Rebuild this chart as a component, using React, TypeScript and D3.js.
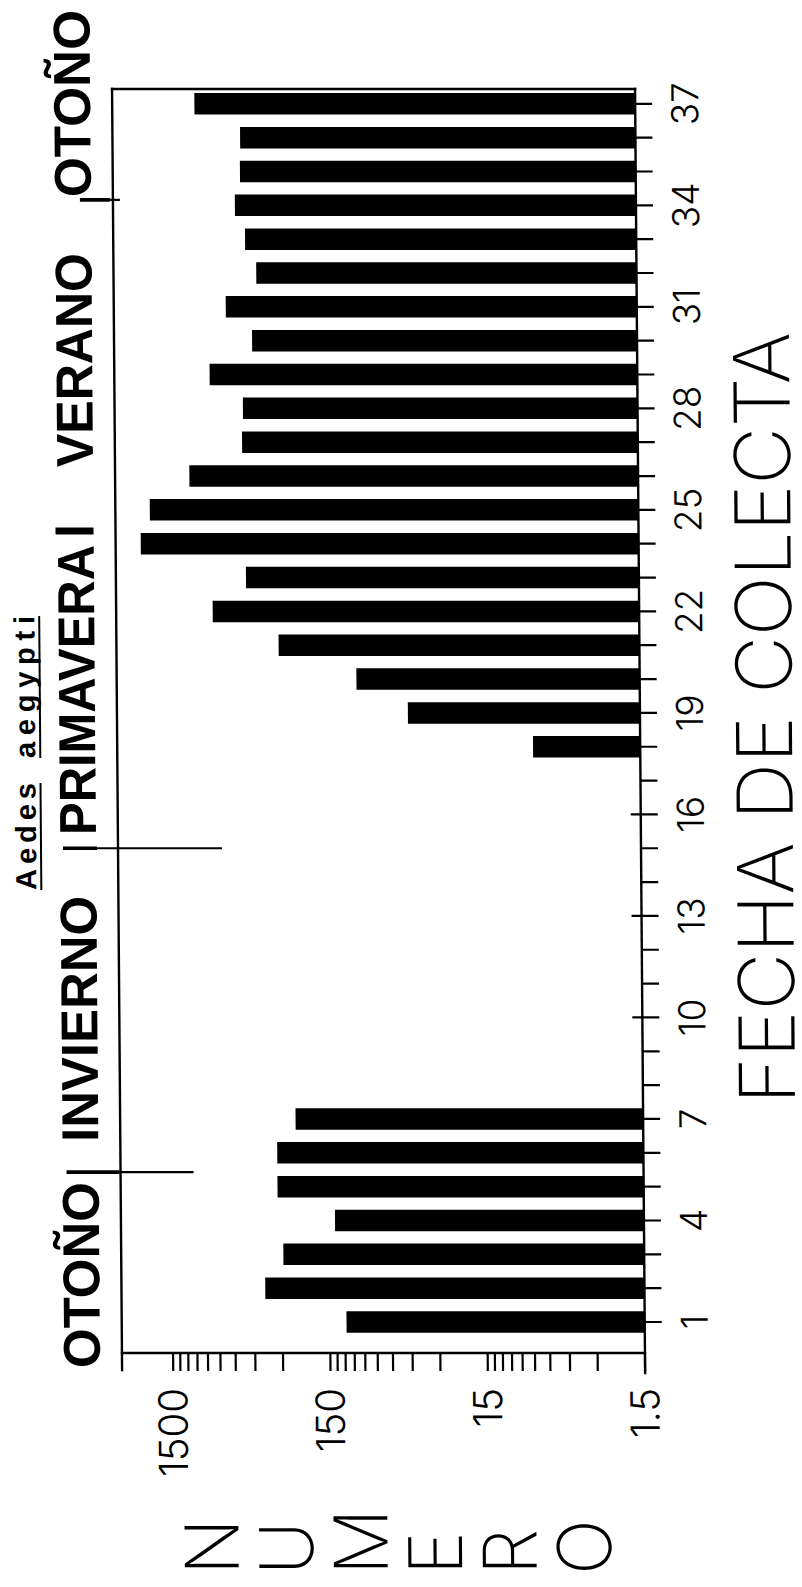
import React from 'react';
import * as d3 from 'd3';

// ---------- data ----------
const dates: number[] = [
  1, 2, 3, 4, 5, 6, 7, 8, 9, 10, 11, 12, 13, 14, 15, 16, 17, 18, 19, 20,
  21, 22, 23, 24, 25, 26, 27, 28, 29, 30, 31, 32, 33, 34, 35, 36, 37,
];
// Aedes aegypti count per collection (null = no bar)
const counts: (number | null)[] = [
  118, 386, 295, 138, 319, 319, 243,
  null, null, null, null, null, null, null, null, null, null,
  7.2, 44.8, 94.8, 295, 771, 472, 2193, 1914, 1068, 492,
  484, 785, 420, 615, 392, 460, 532, 492, 489, 951,
];
const dateTickLabels: number[] = [1, 4, 7, 10, 13, 16, 19, 22, 25, 28, 31, 34, 37];
const valueTickLabels: number[] = [1.5, 15, 150, 1500];
const valueMinorMultipliers: number[] = [1, 2, 3, 4, 5, 6, 7, 8, 9];
const seasonNames: string[] = ['OTOÑO', 'INVIERNO', 'PRIMAVERA', 'VERANO', 'OTOÑO'];
const seasonBoundaries: number[] = [5.43, 15.0, 34.16];
const speciesWords: string[] = ['Aedes', 'aegypti'];
const yAxisTitle = 'NUMERO';
const xAxisTitle = 'FECHA DE COLECTA';

// ---------- layout ----------
const W = 802;
const H = 1587;
const X_BASE = 640; // value 1.5 (bar baseline)
const X_LEFT = 117;
const Y_TOP = 89;
const Y_BOTTOM = 1353;
const DECADE = 157.3;
const SHEAR = 0.00785;
const BAR_H = 21.5;

const seasonLayout = [
  { start: 1368, len: 186 },
  { start: 1142, len: 246 },
  { start: 835, len: 290 },
  { start: 467, len: 214 },
  { start: 197, len: 187 },
];
const dividerLayout = [
  { thick: [63, 116], thin: 190 },
  { thick: [62, 96], thin: 221 },
  { thick: [84, 114], thin: 124 },
];
const speciesLayout = [
  { start: 890, len: 107 },
  { start: 758, len: 142 },
];

const THIN = "Inter, 'Open Sans', 'Liberation Sans', Arial, sans-serif";
const BOLD = "'Liberation Sans', Arial, Helvetica, sans-serif";

export default function App() {
  const xVal = d3
    .scaleLog()
    .domain([1.5, 1500])
    .range([X_BASE, X_BASE - 3 * DECADE]);
  const yDate = d3.scaleLinear().domain([1, 37]).range([1322, 103.8]);

  const minorTicks: number[] = [];
  valueTickLabels.slice(0, 3).forEach((base) => {
    valueMinorMultipliers.forEach((m) => minorTicks.push(base * m));
  });
  minorTicks.push(1500);

  const rot = (x: number, y: number) => `translate(${x},${y}) rotate(-90)`;

  return (
    <svg
      width={W}
      height={H}
      style={{ position: 'absolute', left: 0, top: 0, background: '#fff' }}
    >
      <rect x={0} y={0} width={W} height={H} fill="#fff" />
      <g transform={`matrix(1,0,${SHEAR},1,${-SHEAR * 720},0)`}>
        {/* bars */}
        {dates.map((d, i) => {
          const v = counts[i];
          if (v == null) return null;
          const x = xVal(v);
          return (
            <rect
              key={`bar-${d}`}
              x={x}
              y={yDate(d) - BAR_H / 2}
              width={X_BASE - x}
              height={BAR_H}
              fill="#000"
            />
          );
        })}

        {/* frame */}
        <g stroke="#000" strokeWidth={2.4} fill="none" strokeLinecap="square">
          <line x1={X_LEFT} y1={Y_TOP} x2={X_BASE} y2={Y_TOP} />
          <line x1={X_LEFT} y1={Y_BOTTOM} x2={X_BASE} y2={Y_BOTTOM} />
          <line x1={X_LEFT} y1={Y_TOP} x2={X_LEFT} y2={Y_BOTTOM + 17} />
          <line x1={X_BASE} y1={Y_TOP} x2={X_BASE} y2={Y_BOTTOM + 20} />
        </g>

        {/* value-axis ticks (log) */}
        <g stroke="#000" strokeWidth={2.2}>
          {minorTicks.map((v, i) => (
            <line
              key={`vt-${i}`}
              x1={xVal(v)}
              x2={xVal(v)}
              y1={Y_BOTTOM}
              y2={Y_BOTTOM + 18}
            />
          ))}
        </g>
        {valueTickLabels.map((v) => (
          <text
            key={`vl-${v}`}
            transform={rot(xVal(v) + 14, 1388)}
            textAnchor="end"
            fontFamily={THIN}
            fontWeight={300}
            fontSize={40}
            fill="#000"
          >
            {String(v)}
          </text>
        ))}

        {/* date-axis ticks */}
        <g stroke="#000" strokeWidth={2.2}>
          {dates.map((d) => {
            const major = dateTickLabels.includes(d);
            return (
              <line
                key={`dt-${d}`}
                x1={major ? X_BASE - 10 : X_BASE}
                x2={X_BASE + 17}
                y1={yDate(d)}
                y2={yDate(d)}
              />
            );
          })}
        </g>
        {dateTickLabels.map((d) => (
          <text
            key={`dl-${d}`}
            transform={rot(703, yDate(d))}
            textAnchor="middle"
            fontFamily={THIN}
            fontWeight={280}
            fontSize={37}
            fill="#000"
          >
            {String(d)}
          </text>
        ))}

        {/* season dividers */}
        {seasonBoundaries.map((b, i) => {
          const L = dividerLayout[i];
          const y = yDate(b);
          return (
            <g key={`div-${i}`} stroke="#000">
              <line x1={L.thick[0]} x2={L.thick[1]} y1={y} y2={y} strokeWidth={3.6} />
              <line x1={L.thick[1]} x2={L.thin} y1={y} y2={y} strokeWidth={2.2} />
            </g>
          );
        })}
        {/* separator after PRIMAVERA */}
        <line x1={57} x2={95} y1={531} y2={531} stroke="#000" strokeWidth={7} />

        {/* season names */}
        {seasonNames.map((s, i) => (
          <text
            key={`sn-${i}`}
            transform={rot(95, seasonLayout[i].start)}
            textAnchor="start"
            fontFamily={BOLD}
            fontWeight={700}
            fontSize={52}
            textLength={seasonLayout[i].len}
            lengthAdjust="spacingAndGlyphs"
            fill="#000"
          >
            {s}
          </text>
        ))}

        {/* species name */}
        {speciesWords.map((w, i) => (
          <g key={`sp-${i}`}>
            <text
              transform={rot(35, speciesLayout[i].start)}
              textAnchor="start"
              fontFamily={BOLD}
              fontWeight={700}
              fontSize={29}
              textLength={speciesLayout[i].len}
              lengthAdjust="spacing"
              fill="#000"
            >
              {w}
            </text>
            <line
              x1={40}
              x2={40}
              y1={speciesLayout[i].start}
              y2={speciesLayout[i].start - speciesLayout[i].len}
              stroke="#000"
              strokeWidth={2}
            />
          </g>
        ))}

        {/* axis titles */}
        <text
          transform={rot(792, 1104)}
          textAnchor="start"
          fontFamily={THIN}
          fontWeight={200}
          fontSize={77}
          textLength={772}
          lengthAdjust="spacingAndGlyphs"
          fill="#000"
        >
          {xAxisTitle}
        </text>
        {yAxisTitle.split('').map((ch, i) => (
          <text
            key={`yt-${i}`}
            transform={rot(205 + i * 74.5 + 27, 1575)}
            textAnchor="start"
            fontFamily={THIN}
            fontWeight={200}
            fontSize={74}
            fill="#000"
          >
            {ch}
          </text>
        ))}
      </g>
    </svg>
  );
}
